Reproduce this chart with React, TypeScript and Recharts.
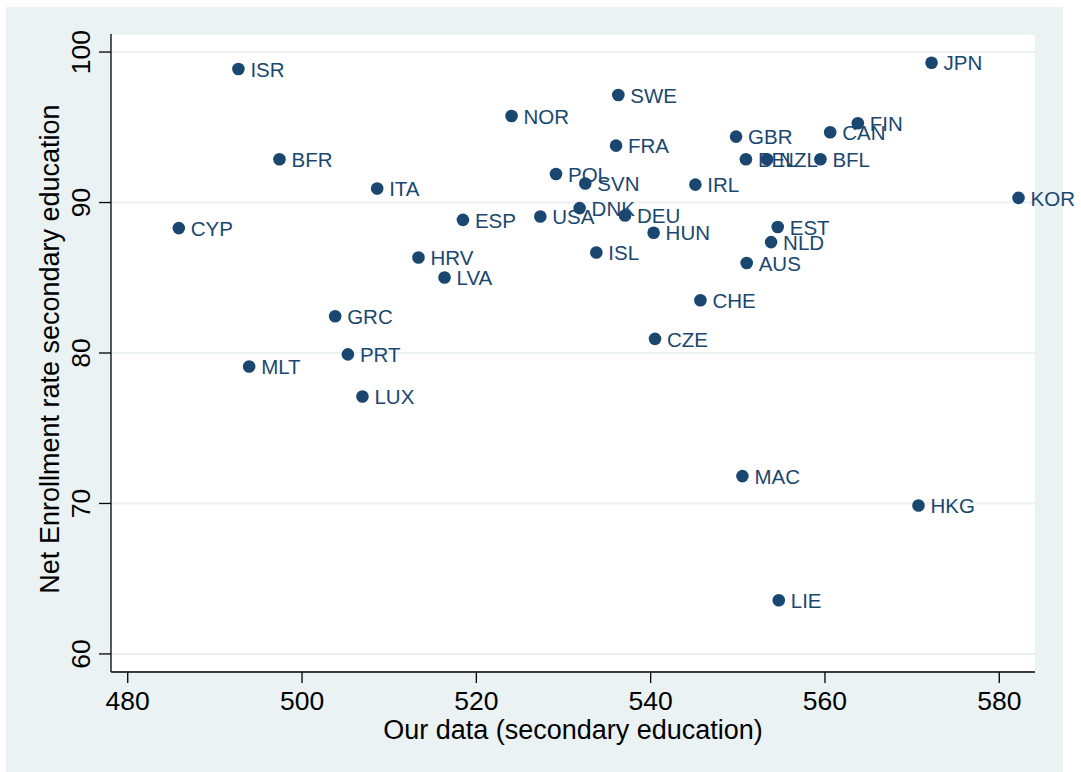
import React from "react";
import { ScatterChart, Scatter, XAxis, YAxis, CartesianGrid, Label } from "recharts";

const countryCodes = [
  "ISR", "BFR", "ITA", "CYP", "JPN", "KOR", "NOR", "SWE", "FRA", "GBR",
  "CAN", "FIN", "BEL", "NZL", "BFL", "POL", "SVN", "IRL", "DNK", "USA",
  "DEU", "HUN", "ISL", "EST", "NLD", "AUS", "CHE", "ESP", "HRV", "LVA",
  "GRC", "PRT", "MLT", "LUX", "CZE", "MAC", "HKG", "LIE",
];

const ourDataScores = [
  492.7, 497.41, 508.62, 485.86, 572.23, 582.21, 524.04, 536.29, 536.03, 549.8,
  560.6, 563.77, 550.93, 553.36, 559.48, 529.14, 532.5, 545.13, 531.85, 527.34,
  537.06, 540.34, 533.77, 554.58, 553.82, 551.02, 545.71, 518.46, 513.36, 516.35,
  503.8, 505.26, 493.93, 506.93, 540.5, 550.53, 570.73, 554.7,
];

const enrollmentRates = [
  98.87, 92.88, 90.93, 88.3, 99.29, 90.31, 95.75, 97.15, 93.78, 94.38,
  94.67, 95.27, 92.88, 92.88, 92.88, 91.9, 91.26, 91.19, 89.63, 89.07,
  89.14, 87.99, 86.68, 88.37, 87.37, 85.98, 83.51, 88.85, 86.35, 85.02,
  82.44, 79.91, 79.1, 77.11, 80.94, 71.82, 69.87, 63.57,
];

const xTicks = [480, 500, 520, 540, 560, 580];
const yTicks = [60, 70, 80, 90, 100];

const xTitle = "Our data (secondary education)";
const yTitle = "Net Enrollment rate secondary education";

const NAVY = "#1A476F";
const BG = "#EAF2F3";
const FONT = "'Liberation Sans', Arial, Helvetica, sans-serif";

const points = countryCodes.map((code, i) => ({
  code,
  x: ourDataScores[i],
  y: enrollmentRates[i],
}));

const PointShape = (props: any) => {
  const { cx, cy, payload } = props;
  if (cx == null || cy == null) return null;
  return (
    <g>
      <circle cx={cx} cy={cy} r={6.3} fill={NAVY} />
      <text
        x={cx + 12}
        y={cy + 7.7}
        fontSize={20.5}
        fontFamily={FONT}
        fill={NAVY}
      >
        {payload.code}
      </text>
    </g>
  );
};

const XTick = (props: any) => {
  const { x, y, payload } = props;
  return (
    <text x={x} y={y + 27} textAnchor="middle" fontSize={26.5} fontFamily={FONT} fill="#000">
      {payload.value}
    </text>
  );
};

const YTick = (props: any) => {
  const { x, y, payload } = props;
  const tx = x - 9;
  return (
    <text
      x={tx}
      y={y}
      textAnchor="middle"
      fontSize={26.5}
      fontFamily={FONT}
      fill="#000"
      transform={`rotate(-90 ${tx} ${y})`}
    >
      {payload.value}
    </text>
  );
};

const XTitle = (props: any) => {
  const vb = props.viewBox || {};
  const cx = vb.x + vb.width / 2;
  return (
    <text x={cx} y={vb.y + 66.5} textAnchor="middle" fontSize={27} fontFamily={FONT} fill="#000">
      {xTitle}
    </text>
  );
};

const YTitle = (props: any) => {
  const vb = props.viewBox || {};
  const cy = vb.y + vb.height / 2 - 4;
  const tx = 59;
  return (
    <text
      x={tx}
      y={cy}
      textAnchor="middle"
      fontSize={27}
      fontFamily={FONT}
      fill="#000"
      transform={`rotate(-90 ${tx} ${cy})`}
    >
      {yTitle}
    </text>
  );
};

export default function App() {
  return (
    <div style={{ position: "absolute", left: 0, top: 0, width: 1081, height: 772, background: "#fff" }}>
      <div style={{ position: "absolute", left: 6, top: 7, width: 1057, height: 765, background: BG }} />
      <div style={{ position: "absolute", left: 0, top: 0 }}>
        <ScatterChart
          width={1081}
          height={772}
          margin={{ top: 34, right: 46, bottom: 0, left: 0 }}
          style={{ overflow: "visible" }}
        >
          <CartesianGrid
            vertical={false}
            horizontal={true}
            stroke={BG}
            strokeWidth={2}
            fill="#ffffff"
          />
          <XAxis
            type="number"
            dataKey="x"
            domain={[478.08, 584.1]}
            ticks={xTicks}
            height={100}
            tickSize={11}
            tickMargin={0}
            axisLine={{ stroke: "#000", strokeWidth: 1.3 }}
            tickLine={{ stroke: "#000", strokeWidth: 1.3 }}
            tick={<XTick />}
            interval={0}
          >
            <Label content={<XTitle />} />
          </XAxis>
          <YAxis
            type="number"
            dataKey="y"
            domain={[58.8, 101.2]}
            ticks={yTicks}
            width={111}
            tickSize={12}
            tickMargin={0}
            axisLine={{ stroke: "#000", strokeWidth: 1.3 }}
            tickLine={{ stroke: "#000", strokeWidth: 1.3 }}
            tick={<YTick />}
            interval={0}
          >
            <Label content={<YTitle />} />
          </YAxis>
          <Scatter data={points} shape={<PointShape />} isAnimationActive={false} />
        </ScatterChart>
      </div>
    </div>
  );
}
